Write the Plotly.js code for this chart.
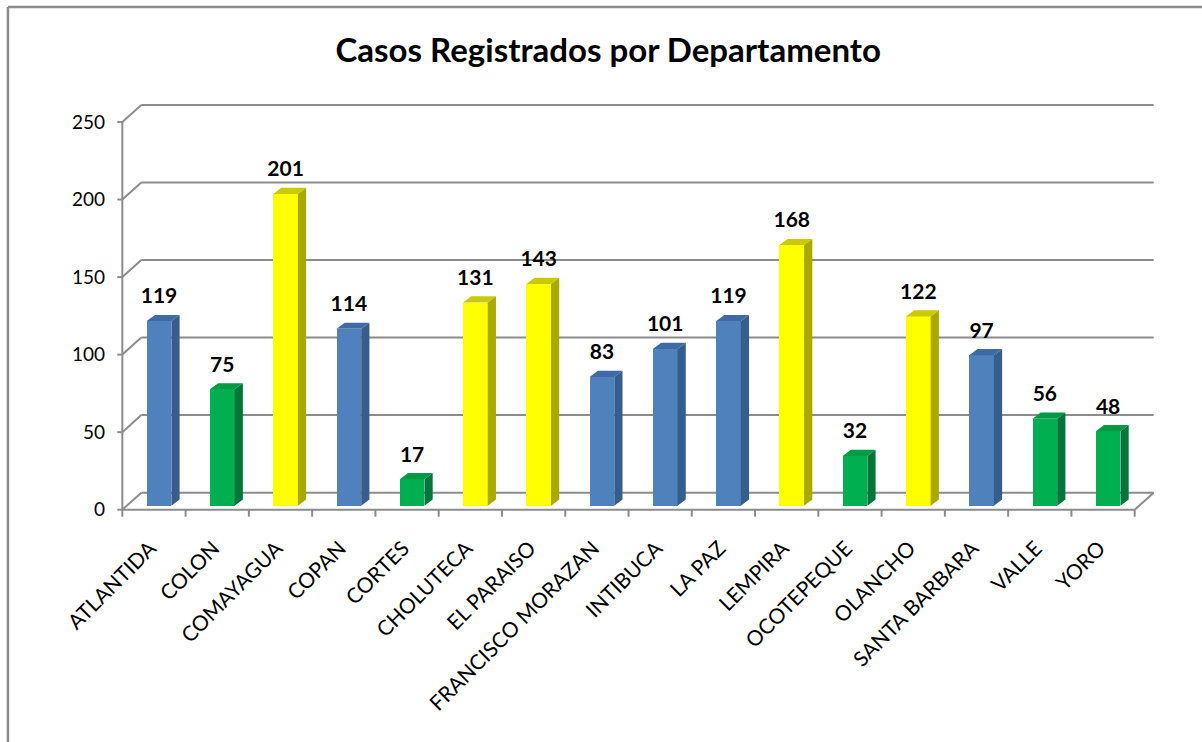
<!DOCTYPE html>
<html>
<head>
<meta charset="utf-8">
<script src="https://cdn.plot.ly/plotly-3.0.1.min.js"></script>
<style>html,body{margin:0;padding:0;background:#fff;}#chart{width:1202px;height:742px;}</style>
</head>
<body>
<div id="chart"></div>
<script>
const categories = ["ATLANTIDA","COLON","COMAYAGUA","COPAN","CORTES","CHOLUTECA","EL PARAISO","FRANCISCO MORAZAN","INTIBUCA","LA PAZ","LEMPIRA","OCOTEPEQUE","OLANCHO","SANTA BARBARA","VALLE","YORO"];
const values = [119,75,201,114,17,131,143,83,101,119,168,32,122,97,56,48];
const groups = ["blue","green","yellow","blue","green","yellow","yellow","blue","blue","blue","yellow","green","yellow","blue","green","green"];
const yTicks = [0,50,100,150,200,250];
const titleText = "Casos Registrados por Departamento";

// styling
const palette = {
  blue:   {front:"#4F81BD", side:"#365D8C", top:"#3E6BA4"},
  green:  {front:"#00B050", side:"#00763A", top:"#009A45"},
  yellow: {front:"#FFFF00", side:"#A9A900", top:"#CACA00"}
};
const BASE = 2.6, BAR_W = 0.39, SHIFT = 0.08, DX = 0.13, DY = 4;
const WALL_X = 0.30, WALL_Y = 11;
const GRID = "#8C8C8C";
const FONT = "Lato, 'Open Sans', sans-serif";

const idx = categories.map((c,i)=>i);
const n = categories.length;

const traces = [];
traces.push({
  type:"bar", x:idx, y:values, base:BASE, width:BAR_W, offset:SHIFT-BAR_W/2,
  marker:{color:groups.map(g=>palette[g].front), line:{width:0}},
  hoverinfo:"skip", showlegend:false
});
Object.keys(palette).forEach(g=>{
  const sx=[], sy=[], tx=[], ty=[];
  idx.forEach(i=>{
    if(groups[i]!==g) return;
    const v = values[i];
    const xr = i + SHIFT + BAR_W/2, xl = xr - BAR_W, top = BASE + v;
    sx.push(xr, xr, xr+DX, xr+DX, xr, null);
    sy.push(BASE, top, top+DY, BASE+DY, BASE, null);
    tx.push(xl, xr, xr+DX, xl+DX, xl, null);
    ty.push(top, top, top+DY, top+DY, top, null);
  });
  traces.push({type:"scatter", mode:"lines", x:sx, y:sy, fill:"toself", fillcolor:palette[g].side, line:{width:0, color:palette[g].side}, hoverinfo:"skip", showlegend:false});
  traces.push({type:"scatter", mode:"lines", x:tx, y:ty, fill:"toself", fillcolor:palette[g].top, line:{width:0, color:palette[g].top}, hoverinfo:"skip", showlegend:false});
});
traces.push({
  type:"scatter", mode:"text", x:idx.map(i=>i+SHIFT), y:values.map(v=>BASE+v+DY+4),
  text:values.map(String), textposition:"top center",
  textfont:{family:FONT, size:21, color:"#000", weight:"bold"},
  hoverinfo:"skip", showlegend:false, cliponaxis:false
});

const x0 = -0.5, x1 = n - 0.5;
const shapes = [];
yTicks.forEach(v=>{
  shapes.push({type:"line", xref:"x", yref:"y", x0:x0, y0:v, x1:x0+WALL_X, y1:v+WALL_Y, line:{color:GRID, width:2}, layer:"below"});
  shapes.push({type:"line", xref:"x", yref:"y", x0:x0+WALL_X, y0:v+WALL_Y, x1:x1+WALL_X, y1:v+WALL_Y, line:{color:GRID, width:2}, layer:"below"});
  shapes.push({type:"line", xref:"x", yref:"y", x0:x0, y0:v, x1:x0-0.08, y1:v, line:{color:GRID, width:2}, layer:"below"});
});
shapes.push({type:"line", xref:"x", yref:"y", x0:x0, y0:0, x1:x0, y1:yTicks[yTicks.length-1], line:{color:GRID, width:2}, layer:"below"});
shapes.push({type:"line", xref:"x", yref:"y", x0:x0, y0:0, x1:x1, y1:0, line:{color:GRID, width:2}, layer:"below"});
shapes.push({type:"line", xref:"x", yref:"y", x0:x1, y0:0, x1:x1+WALL_X, y1:WALL_Y, line:{color:GRID, width:2}, layer:"below"});
for(let k=0;k<=n;k++){
  shapes.push({type:"line", xref:"x", yref:"y", x0:x0+k, y0:0, x1:x0+k, y1:-4.5, line:{color:GRID, width:2}, layer:"below"});
}
// outer chart frame (left and top edges)
shapes.push({type:"line", xref:"paper", yref:"paper", x0:-0.1035, y0:1.234, x1:-0.1035, y1:-0.6, line:{color:"#8A8A8A", width:2.5}});
shapes.push({type:"line", xref:"paper", yref:"paper", x0:-0.1035, y0:1.234, x1:1.1, y1:1.234, line:{color:"#8A8A8A", width:2.5}});

const layout = {
  width:1202, height:742,
  margin:{l:116, r:42, t:104, b:223},
  paper_bgcolor:"#fff", plot_bgcolor:"rgba(0,0,0,0)",
  title:{text:titleText, font:{family:FONT, size:33, color:"#000", weight:"bold"}, xref:"container", yref:"container", x:0.506, xanchor:"center", y:0.932, yanchor:"middle"},
  xaxis:{range:[-0.6, 15.9], tickmode:"array", tickvals:idx.map(i=>i-0.06), ticktext:categories, tickangle:-45,
         showgrid:false, zeroline:false, showline:false, ticks:"", ticklabelstandoff:12, tickfont:{family:FONT, size:21, color:"#000"}, fixedrange:true},
  yaxis:{range:[-6, 261.6], tickmode:"array", tickvals:yTicks, ticktext:yTicks.map(String),
         showgrid:false, zeroline:false, showline:false, ticks:"", ticklabelstandoff:10, tickfont:{family:FONT, size:19, color:"#000"}, fixedrange:true},
  shapes:shapes,
  showlegend:false,
  bargap:0
};
Plotly.newPlot("chart", traces, layout, {displayModeBar:false, staticPlot:true});
</script>
</body>
</html>
